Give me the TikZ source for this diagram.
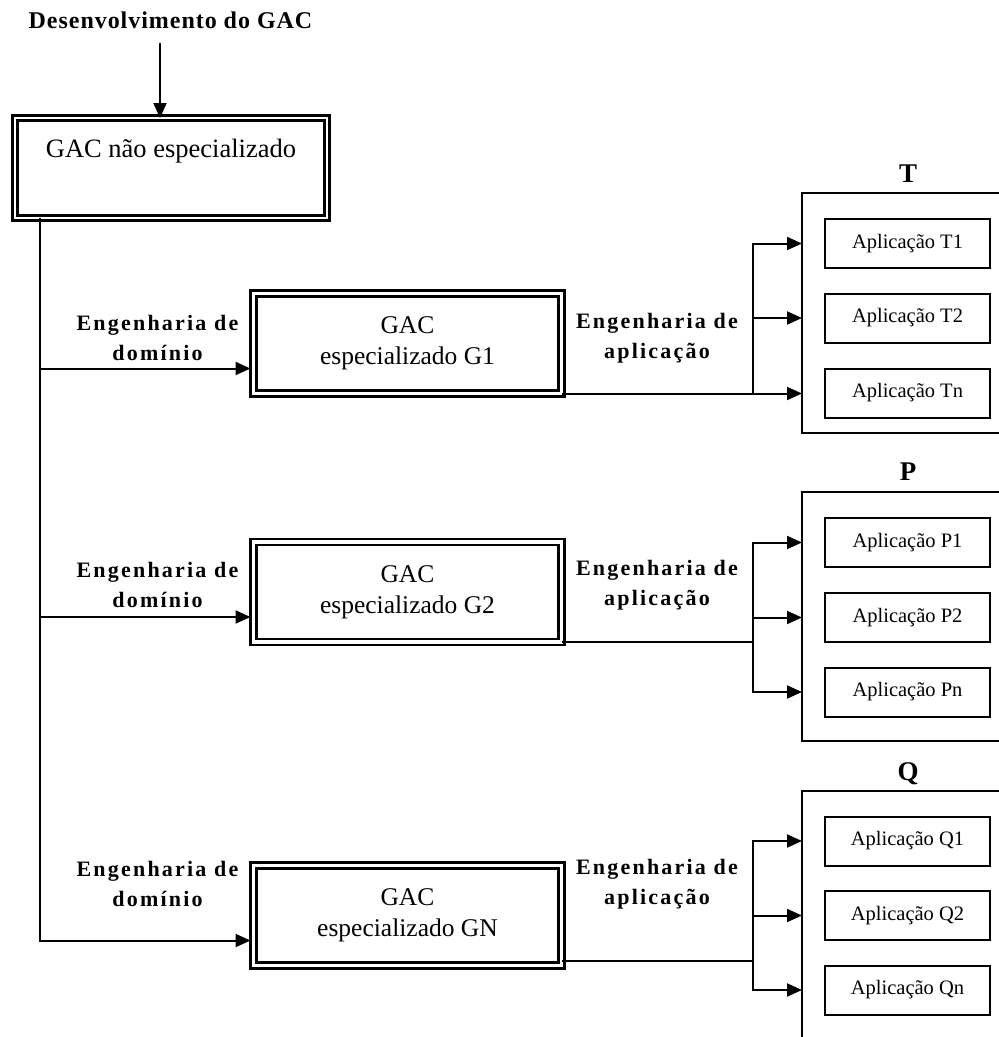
\documentclass[tikz,border=0pt]{standalone}
\usepackage{fontspec}
\setmainfont{Liberation Serif}
\usetikzlibrary{arrows.meta,calc}
\begin{document}
\begin{tikzpicture}[x=1pt,y=-1pt,
  every node/.style={inner sep=0pt,outer sep=0pt},
  ln/.style={line width=2pt},
  arr/.style={line width=2pt,-{Triangle[length=15pt,width=13pt]}},
  titletext/.style={font=\fontsize{24}{30}\selectfont\bfseries\addfontfeatures{LetterSpace=4}},
  phase/.style={font=\fontsize{22}{30}\selectfont\bfseries\addfontfeatures{LetterSpace=10},align=center},
  grouplabel/.style={font=\fontsize{27}{30}\selectfont\bfseries},
  mainbox/.style={draw,double,line width=2.4pt,double distance=2.6pt,
    minimum width=312pt,minimum height=100pt,
    font=\fontsize{26.5}{31}\selectfont,text height=18pt,text depth=40pt},
  gacbox/.style={draw,double,line width=2.6pt,double distance=3.2pt,
    minimum width=308pt,minimum height=100pt,
    font=\fontsize{25.5}{31}\selectfont,align=center},
  group/.style={draw,line width=2pt,minimum width=208pt},
  appbox/.style={draw,line width=2pt,minimum width=165pt,minimum height=49pt,
    font=\fontsize{20.5}{24}\selectfont}
]
\useasboundingbox (0,0) rectangle (999,1037);
\clip (0,0) rectangle (999,1037);

% development of the generic component
\node[titletext] (title) at (170.5,20) {Desenvolvimento do GAC};
\node[mainbox] (A) at (171,168) {GAC não especializado};
\coordinate (src) at (160,43);
\draw[arr] (src) -- (src |- A.north);

% specialised components
\node[gacbox] (G1) at (407.5,343.5) {GAC\\especializado G1};
\node[gacbox] (G2) at (407.5,592) {GAC\\especializado G2};
\node[gacbox] (GN) at (407.5,915.5) {GAC\\especializado GN};

% domain engineering labels
\node[phase] (d1) at (157.5,338) {Engenharia de\\domínio};
\node[phase] (d2) at (157.5,585) {Engenharia de\\domínio};
\node[phase] (d3) at (157.5,884) {Engenharia de\\domínio};

% application engineering labels
\node[phase] (e1) at (657,338) {Engenharia de\\aplicação};
\node[phase] (e2) at (657,585) {Engenharia de\\aplicação};
\node[phase] (e3) at (657,884) {Engenharia de\\aplicação};

% application groups
\node[group,minimum height=240pt] (T) at (906,313) {};
\node[group,minimum height=249pt] (P) at (906,616.5) {};
\node[group,minimum height=260pt] (Q) at (906,921) {};
\node[grouplabel] (Tl) at (908,174) {T};
\node[grouplabel] (Pl) at (908,472) {P};
\node[grouplabel] (Ql) at (908,774) {Q};

\node[appbox] (T1) at (907.5,243.5) {Aplicação T1};
\node[appbox] (T2) at (907.5,318) {Aplicação T2};
\node[appbox] (Tn) at (907.5,393) {Aplicação Tn};
\node[appbox] (P1) at (907.5,542.5) {Aplicação P1};
\node[appbox] (P2) at (907.5,617.5) {Aplicação P2};
\node[appbox] (Pn) at (907.5,692) {Aplicação Pn};
\node[appbox] (Q1) at (907.5,841) {Aplicação Q1};
\node[appbox] (Q2) at (907.5,915.5) {Aplicação Q2};
\node[appbox] (Qn) at (907.5,990) {Aplicação Qn};

% trunk from the generic component to each specialisation
\coordinate (tx) at (40,0);
\coordinate (G1in) at ($(G1.south west)!0.25!(G1.north west)$);
\coordinate (G2in) at ($(G2.south west)!0.25!(G2.north west)$);
\coordinate (GNin) at ($(GN.south west)!0.25!(GN.north west)$);
\draw[arr,shorten >=3pt] (A.south -| tx) |- (GNin);
\draw[arr,shorten >=3pt] (G1in -| tx) -- (G1in);
\draw[arr,shorten >=3pt] (G2in -| tx) -- (G2in);

% branches towards the applications
\coordinate (bx) at (753,0);
\draw[arr] (G1.south east) -- (G1.south east -| T.west);
\draw[arr] (G1.south east -| bx) |- (T1 -| T.west);
\draw[arr] (G1.south east -| bx) |- (T2 -| T.west);

\draw[ln] (G2.south east) -- (G2.south east -| bx);
\draw[arr] (G2.south east -| bx) |- (P1 -| P.west);
\draw[arr] (G2.south east -| bx) |- (P2 -| P.west);
\draw[arr] (G2.south east -| bx) |- (Pn -| P.west);

\coordinate (GNout) at ([yshift=5pt]GN.south east);
\draw[ln] (GNout) -- (GNout -| bx);
\draw[arr] (GNout -| bx) |- (Q1 -| Q.west);
\draw[arr] (GNout -| bx) |- (Q2 -| Q.west);
\draw[arr] (GNout -| bx) |- (Qn -| Q.west);
\end{tikzpicture}
\end{document}
